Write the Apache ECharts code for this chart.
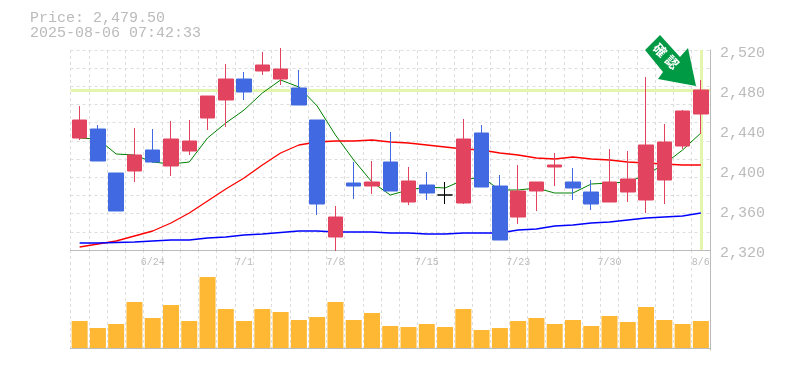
<!DOCTYPE html>
<html>
<head>
<meta charset="utf-8">
<style>
html,body{margin:0;padding:0;background:#fff}
#chart{width:785px;height:370px}
</style>
<script src="https://cdn.jsdelivr.net/npm/echarts@6/dist/echarts.min.js"></script>
</head>
<body>
<div id="chart"></div>
<script>
var categories = ['6/18','6/19','6/20','6/23','6/24','6/25','6/26','6/27','6/30','7/1','7/2','7/3','7/4','7/7','7/8','7/9','7/10','7/11','7/14','7/15','7/16','7/17','7/18','7/22','7/23','7/24','7/25','7/28','7/29','7/30','7/31','8/1','8/4','8/5','8/6']
var tickLabels = ['6/24','7/1','7/8','7/15','7/23','7/30','8/6']
// open, close, low, high
var candles = [
	[2432,2450,2430,2464],[2441,2409,2409,2445],[2397,2359,2359,2397],[2399,2415,2388,2442],[2420,2408,2407,2441],
	[2404,2431,2394,2449],[2419,2429,2415,2450],[2452,2474,2440,2474],[2470,2491,2443,2506],[2491,2478,2470,2498],
	[2499,2505,2495,2518],[2491,2501,2485,2522],[2482,2465,2465,2500],[2450,2366,2355,2450],[2333,2353,2319,2364],
	[2387,2384,2371,2408],[2384,2388,2376,2409],[2408,2379,2379,2438],[2368,2389,2365,2403],[2385,2377,2370,2398],
	[2375,2375,2366,2388],[2367,2431,2366,2451],[2437,2383,2383,2445],[2384,2330,2330,2395],[2353,2379,2346,2405],
	[2379,2388,2359,2388],[2403,2405,2384,2417],[2388,2382,2370,2402],[2378,2366,2360,2390],[2368,2388,2368,2421],
	[2378,2391,2368,2419],[2370,2425,2357,2493],[2390,2428,2366,2446],[2424,2459,2421,2460],[2456,2480,2436,2490]
]
var maShort = [2432,2431,2416,2415,2408,2406,2408,2432,2447,2460,2477,2490,2483,2464,2435,2410,2388,2375,2380,2383,2382,2390,2393,2380,2380,2382,2377,2377,2386,2387,2388,2395,2406,2420,2437]
var maMid = [2323,2326,2329,2334,2339,2347,2357,2369,2381,2392,2405,2417,2425,2428,2429,2429,2430,2428,2427,2425,2423,2421,2420,2417,2415,2412,2411,2413,2411,2410,2408,2407,2406,2405,2405]
var maLong = [2327,2327,2327.5,2328,2329,2330,2330,2332,2333,2335,2336,2337.5,2339,2339,2338,2338,2338,2337,2337,2336,2336,2337,2337,2337,2340,2341,2344,2345,2347,2348,2350,2352,2353,2354,2357]
var volumes = [27,20,24,46,30,43,27,71,39,27,39,36,28,31,46,28,35,22,21,24,21,39,18,20,27,30,24,28,22,32,26,41,28,24,27]
var lastPrice = 2479.5
var stamp = '2025-08-06 07:42:33'

var gray = '#bbbbbb'
var gridGray = '#dddddd'
var monoFont = '"Liberation Mono", monospace'
var myChart = echarts.init(document.getElementById('chart'), null, {renderer:'canvas'})

function maLine(name, data, color, width){
	return {
		name: name, type: 'line', data: data, z: 2,
		xAxisIndex: 0, yAxisIndex: 0,
		symbol: 'none', silent: true, animation: false,
		lineStyle: {color: color, width: width},
	}
}

var option = {
	animation: false,
	backgroundColor: '#fff',
	grid: [
		{left: 70.5, width: 639.5, top: 50, height: 200},
		{left: 70.5, width: 639.5, top: 250, height: 100},
	],
	graphic: [
		{type:'text', left: 30, top: 11, style:{text:'Price: ' + lastPrice.toLocaleString('en-US',{minimumFractionDigits:2}), fill: gray, font:'15px ' + monoFont}},
		{type:'text', left: 30, top: 26, style:{text: stamp, fill: gray, font:'15px ' + monoFont}},
		{type:'polygon', z: 20, shape:{points:[[660,35],[645,50],[663,72],[658,79],[696,86],[688,48],[680,57]]}, style:{fill:'#009a44'}},
		{type:'text', z: 21, x: 660, y: 50, rotation: -Math.PI/4, style:{text:'確', fill:'#fff', font:'bold 13px "Noto Sans CJK JP"', align:'center', verticalAlign:'middle'}},
		{type:'text', z: 21, x: 672, y: 62, rotation: -Math.PI/4, style:{text:'認', fill:'#fff', font:'bold 13px "Noto Sans CJK JP"', align:'center', verticalAlign:'middle'}},
	],
	xAxis: [
		{
			type:'category', gridIndex:0, data:categories, boundaryGap:true,
			axisLine:{lineStyle:{color:gray}}, axisTick:{show:false},
			axisLabel:{
				color:gray, fontSize:10, fontFamily:monoFont, margin:7, showMinLabel:true, showMaxLabel:true,
				interval:function(i,v){return tickLabels.indexOf(v)>=0},
			},
			splitLine:{show:true, interval:0, lineStyle:{color:gridGray, type:[3,3]}},
		},
		{
			type:'category', gridIndex:1, data:categories, boundaryGap:true,
			axisLine:{lineStyle:{color:gray, width:1}}, axisTick:{show:false}, axisLabel:{show:false},
			splitLine:{show:true, interval:0, lineStyle:{color:gridGray, type:[3,3]}},
		},
	],
	yAxis: [
		{
			type:'value', gridIndex:0, position:'right', min:2320, max:2520, interval:40, scale:true,
			axisLine:{show:true, lineStyle:{color:gray}}, axisTick:{show:false}, splitLine:{show:false},
			axisLabel:{color:gray, fontSize:15, fontFamily:monoFont, margin:10, verticalAlign:'top', lineHeight:7,
				formatter:function(v){return v.toLocaleString('en-US')}},
		},
		{
			// horizontal dashed grid only, it does not line up with the price ticks
			type:'value', gridIndex:0, position:'left', min:0, max:11, interval:1,
			axisLine:{show:false}, axisTick:{show:false}, axisLabel:{show:false},
			splitLine:{show:true, lineStyle:{color:gridGray, type:[3,3]}},
		},
		{
			type:'value', gridIndex:1, position:'right', min:-2, max:98,
			axisLine:{show:true, lineStyle:{color:gray}}, axisTick:{show:false}, axisLabel:{show:false},
			splitLine:{show:false},
		},
	],
	series: [
		{
			name:'last', type:'line', data:[], xAxisIndex:0, yAxisIndex:0, z:1, silent:true,
			markLine:{
				z:1, silent:true, symbol:'none', label:{show:false}, animation:false,
				lineStyle:{color:'#e4f5ad', width:3, type:'solid'},
				data:[{yAxis:lastPrice},{xAxis:categories[categories.length-1]}],
			},
		},
		maLine('short', maShort, '#008000', 1),
		maLine('mid', maMid, '#ff0000', 1.3),
		maLine('long', maLong, '#0000ff', 1.3),
		{
			name:'price', type:'candlestick', data:candles, xAxisIndex:0, yAxisIndex:0, z:3,
			barWidth:15, clip:false, silent:true,
			itemStyle:{
				color:'#e2435f', borderColor:'#e2435f',
				color0:'#4169e1', borderColor0:'#4169e1',
				borderColorDoji:'#000000', borderWidth:1,
			},
		},
		{
			name:'volume', type:'bar', data:volumes, xAxisIndex:1, yAxisIndex:2,
			barWidth:16, silent:true,
			itemStyle:{color:'#ffb833'},
		},
	],
}
myChart.setOption(option)
</script>
</body>
</html>
